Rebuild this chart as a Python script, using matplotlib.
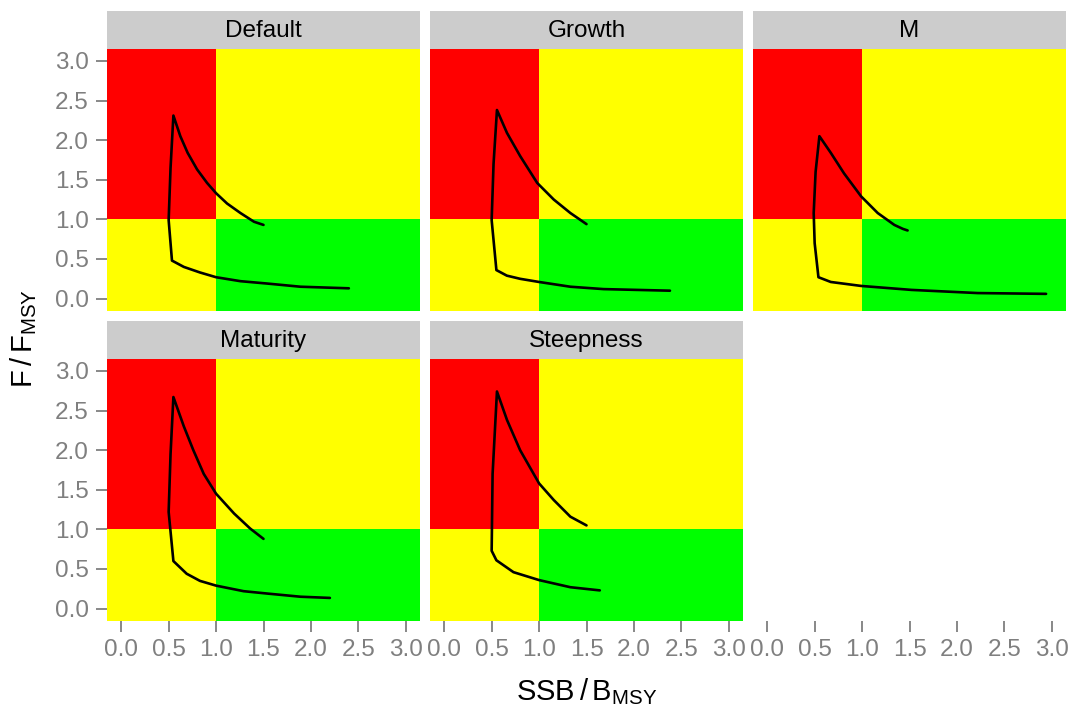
import matplotlib
matplotlib.use("Agg")
import matplotlib.pyplot as plt

plt.rcParams['font.family'] = ['Liberation Sans', 'DejaVu Sans']
plt.rcParams['mathtext.default'] = 'regular'

# ---------------- data ----------------
panel_names = ["Default", "Growth", "M", "Maturity", "Steepness"]

default_x = [2.40, 1.89, 1.54, 1.257, 1.00, 0.83, 0.66, 0.535, 0.50, 0.52, 0.55, 0.623, 0.70, 0.80, 0.905, 1.00, 1.116, 1.257, 1.40, 1.50]
default_y = [0.13, 0.15, 0.19, 0.22, 0.27, 0.33, 0.40, 0.48, 0.99, 1.65, 2.31, 2.05, 1.84, 1.63, 1.46, 1.33, 1.20, 1.08, 0.97, 0.93]

growth_x = [2.38, 2.03, 1.68, 1.33, 1.00, 0.80, 0.66, 0.55, 0.50, 0.52, 0.556, 0.662, 0.80, 0.98, 1.155, 1.33, 1.50]
growth_y = [0.10, 0.11, 0.12, 0.15, 0.21, 0.25, 0.29, 0.36, 0.99, 1.70, 2.38, 2.09, 1.80, 1.46, 1.25, 1.08, 0.94]

m_x = [2.94, 2.22, 1.52, 0.99, 0.67, 0.54, 0.50, 0.49, 0.51, 0.55, 0.67, 0.81, 0.99, 1.165, 1.34, 1.43, 1.48]
m_y = [0.06, 0.07, 0.11, 0.16, 0.21, 0.27, 0.70, 1.08, 1.60, 2.05, 1.84, 1.58, 1.29, 1.08, 0.93, 0.88, 0.86]

maturity_x = [2.20, 1.89, 1.54, 1.29, 1.00, 0.83, 0.69, 0.55, 0.50, 0.52, 0.55, 0.66, 0.76, 0.87, 1.00, 1.19, 1.36, 1.50]
maturity_y = [0.135, 0.15, 0.19, 0.22, 0.29, 0.35, 0.44, 0.60, 1.22, 1.95, 2.67, 2.30, 2.00, 1.70, 1.45, 1.20, 1.01, 0.88]

steepness_x = [1.64, 1.33, 1.00, 0.73, 0.55, 0.50, 0.51, 0.556, 0.662, 0.80, 1.00, 1.155, 1.33, 1.50]
steepness_y = [0.23, 0.27, 0.36, 0.46, 0.61, 0.73, 1.70, 2.74, 2.38, 2.00, 1.58, 1.37, 1.16, 1.05]

series_x = [default_x, growth_x, m_x, maturity_x, steepness_x]
series_y = [default_y, growth_y, m_y, maturity_y, steepness_y]

ref_x = 1.0          # SSB/BMSY threshold
ref_y = 1.0          # F/FMSY threshold
axis_lo, axis_hi = 0.0, 3.0
tick_vals = [0.0, 0.5, 1.0, 1.5, 2.0, 2.5, 3.0]
tick_labels = ["0.0", "0.5", "1.0", "1.5", "2.0", "2.5", "3.0"]

# ---------------- layout ----------------
W, H = 1075, 715
fig = plt.figure(figsize=(W / 100, H / 100), dpi=100)

col_left = [107, 430, 753]
panel_w = 313
row_top = [49, 359]
panel_h = 261.5
strip_h = 38

pad = 0.05 * (axis_hi - axis_lo)
lo, hi = axis_lo - pad, axis_hi + pad

RED, YEL, GRN = "#FF0000", "#FFFF00", "#00FF00"
GREY_TXT = "#7F7F7F"
STRIP = "#CCCCCC"


def style_ticks(ax, show_x, show_y):
    ax.set_xlim(lo, hi)
    ax.set_ylim(lo, hi)
    ax.set_xticks(tick_vals)
    ax.set_yticks(tick_vals)
    ax.tick_params(axis='both', length=8, width=1.3, color=GREY_TXT,
                   labelcolor=GREY_TXT, labelsize=17.5, pad=5)
    if show_x:
        ax.set_xticklabels(tick_labels)
    else:
        ax.tick_params(axis='x', bottom=False, labelbottom=False)
    if show_y:
        ax.set_yticklabels(tick_labels)
    else:
        ax.tick_params(axis='y', left=False, labelleft=False)
    for s in ax.spines.values():
        s.set_visible(False)


for i, name in enumerate(panel_names):
    r, c = divmod(i, 3)
    left = col_left[c] / W
    bottom = (H - row_top[r] - panel_h) / H
    ax = fig.add_axes([left, bottom, panel_w / W, panel_h / H])
    # zones
    ax.fill_between([lo, ref_x], ref_y, hi, color=RED, lw=0)
    ax.fill_between([ref_x, hi], ref_y, hi, color=YEL, lw=0)
    ax.fill_between([lo, ref_x], lo, ref_y, color=YEL, lw=0)
    ax.fill_between([ref_x, hi], lo, ref_y, color=GRN, lw=0)
    ax.plot(series_x[i], series_y[i], color="black", lw=1.9,
            solid_joinstyle='round', solid_capstyle='round')
    style_ticks(ax, show_x=(r == 1), show_y=(c == 0))
    # strip
    sax = fig.add_axes([left, (H - row_top[r]) / H, panel_w / W, strip_h / H])
    sax.set_facecolor(STRIP)
    sax.set_xticks([]); sax.set_yticks([])
    for s in sax.spines.values():
        s.set_visible(False)
    sax.text(0.5, 0.47, name, ha='center', va='center', fontsize=17.5, color='black',
             transform=sax.transAxes)

# x axis for the third column placed at the bottom row
eax = fig.add_axes([col_left[2] / W, (H - row_top[1] - panel_h) / H, panel_w / W, panel_h / H])
eax.patch.set_visible(False)
style_ticks(eax, show_x=True, show_y=False)

# axis titles
fig.text(24 / W, 1 - 338 / H, r'$\mathregular{F\,/\,F_{MSY}}$', rotation=90,
         ha='center', va='center', fontsize=21)
mid_x = ((col_left[0] + col_left[2] + panel_w) / 2) / W
fig.text(mid_x, (H - 700) / H, r'$\mathregular{SSB\,/\,B_{MSY}}$', ha='center',
         va='baseline', fontsize=21)

fig.savefig("out.png", dpi=100)
